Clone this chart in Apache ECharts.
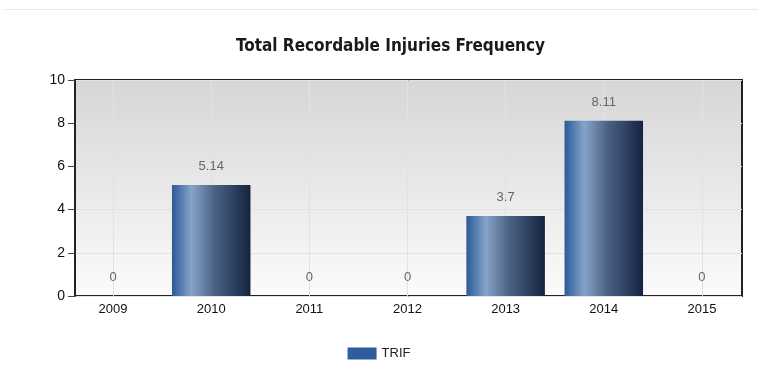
<!DOCTYPE html>
<html>
<head>
<meta charset="utf-8">
<script src="https://cdn.jsdelivr.net/npm/echarts@6/dist/echarts.min.js"></script>
<style>
  html, body { margin: 0; padding: 0; background: #fff; }
  #chart { width: 758px; height: 367px; }
  #topline { position: absolute; left: 5px; top: 9px; width: 753px; height: 1px; background: #e6e6e6; }
</style>
</head>
<body>
<div id="topline"></div>
<div id="chart"></div>
<script>
const years = ['2009', '2010', '2011', '2012', '2013', '2014', '2015']
const trif = [0, 5.14, 0, 0, 3.7, 8.11, 0]
const yTicks = [0, 2, 4, 6, 8, 10]

const labelFont = "'Liberation Sans', Arial, sans-serif"

const chart = echarts.init(document.getElementById('chart'))

const barFill = new echarts.graphic.LinearGradient(0, 0, 1, 0, [
  { offset: 0, color: '#2b5a98' },
  { offset: 0.25, color: '#86a4c8' },
  { offset: 0.55, color: '#4a6184' },
  { offset: 1, color: '#142440' }
])

chart.setOption({
  animation: false,
  title: {
    text: 'Total Recordable Injuries Frequency',
    left: 231,
    top: 33,
    textStyle: {
      fontFamily: 'DejaVu Sans Condensed',
      fontSize: 17,
      fontWeight: 'bold',
      color: '#1a1a1a'
    }
  },
  legend: {
    data: [{ name: 'TRIF', icon: 'rect', itemStyle: { color: '#2e5c9e', borderWidth: 0 } }],
    bottom: 2,
    left: 'center',
    itemWidth: 29,
    itemHeight: 12,
    itemGap: 6,
    textStyle: { fontFamily: labelFont, fontSize: 13, color: '#222' }
  },
  grid: [
    // grid holding the bars; categories run a bit wider than the framed box
    { left: 64, right: 7, top: 80, bottom: 71 },
    // framed, shaded plot box with the value axis
    {
      left: 75,
      right: 16,
      top: 80,
      bottom: 71,
      show: true,
      borderColor: '#222',
      borderWidth: 2,
      z: 0,
      backgroundColor: new echarts.graphic.LinearGradient(0, 0, 0, 1, [
        { offset: 0, color: '#d6d6d6' },
        { offset: 1, color: '#fbfbfb' }
      ])
    }
  ],
  xAxis: [
    {
      type: 'category',
      gridIndex: 0,
      data: years,
      axisLine: { show: false },
      axisTick: { alignWithLabel: true, length: 4, lineStyle: { color: '#555' } },
      axisLabel: { color: '#111', fontFamily: labelFont, fontSize: 13, margin: 7 },
      splitLine: { show: false }
    },
    {
      type: 'value',
      gridIndex: 1,
      show: false
    }
  ],
  yAxis: [
    {
      type: 'value',
      gridIndex: 0,
      min: yTicks[0],
      max: yTicks[yTicks.length - 1],
      interval: 2,
      show: false
    },
    {
      type: 'value',
      gridIndex: 1,
      min: yTicks[0],
      max: yTicks[yTicks.length - 1],
      interval: 2,
      axisLine: { show: true, lineStyle: { color: '#222', width: 2 } },
      axisTick: { show: true, length: 7, lineStyle: { color: '#444' } },
      axisLabel: { color: '#111', fontFamily: labelFont, fontSize: 14, margin: 10 },
      splitLine: { lineStyle: { color: '#e2e2e2', width: 1 } }
    }
  ],
  series: [{
    name: 'TRIF',
    type: 'bar',
    xAxisIndex: 0,
    yAxisIndex: 0,
    data: trif,
    barWidth: '80%',
    itemStyle: { color: barFill, borderWidth: 0 },
    label: {
      show: true,
      position: 'top',
      distance: 12,
      color: '#666',
      fontFamily: labelFont,
      fontSize: 13
    },
    markLine: {
      silent: true,
      symbol: 'none',
      z: 1,
      label: { show: false },
      lineStyle: { color: '#e2e2e2', type: 'solid', width: 1 },
      data: years.map(function (y) { return { xAxis: y } })
    }
  }]
})
</script>
</body>
</html>
